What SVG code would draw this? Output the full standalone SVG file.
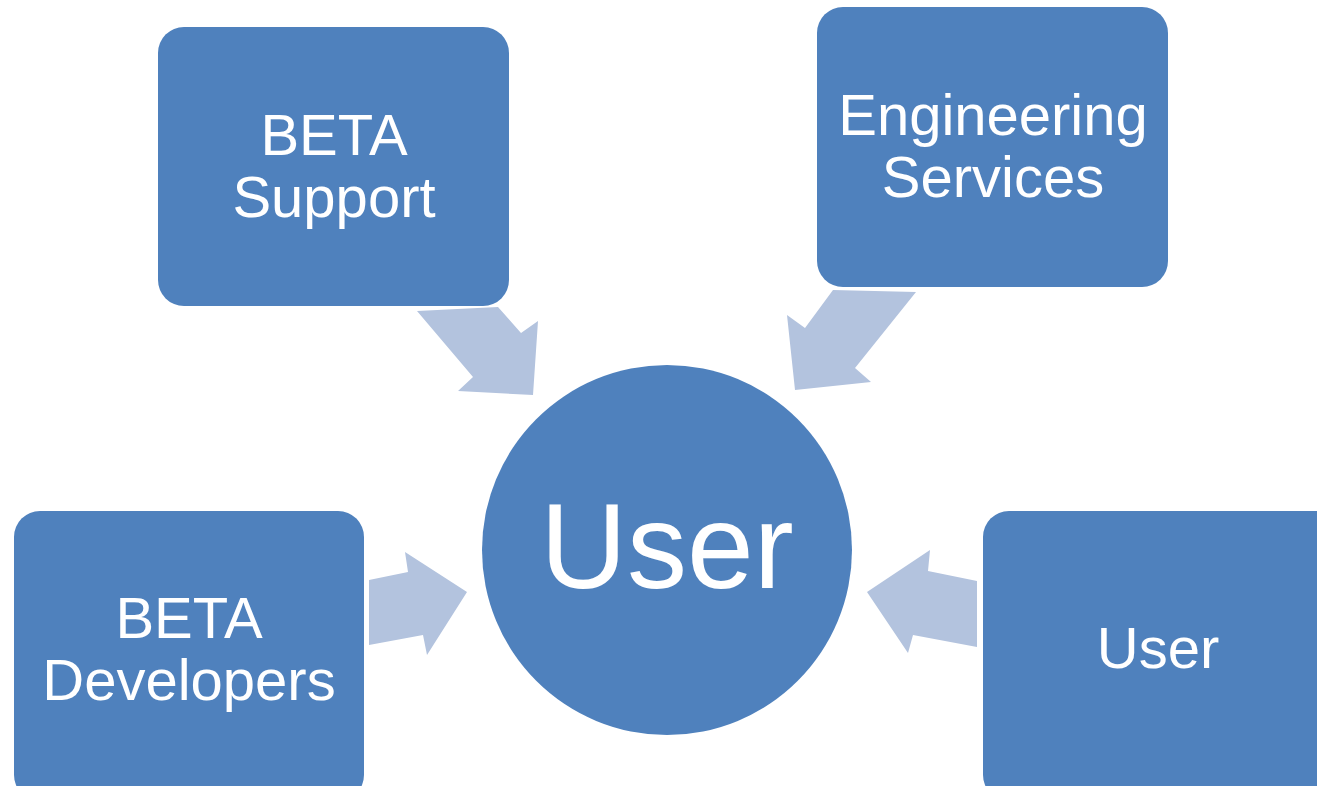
<svg xmlns="http://www.w3.org/2000/svg" width="1317" height="786" viewBox="0 0 1317 786">
<style>
.box{fill:#4F81BD}
.arr{fill:#B3C3DE}
.t{fill:#FFFFFF;font-family:"Liberation Sans",Arial,sans-serif;font-size:58px;text-anchor:middle}
</style>
<rect width="1317" height="786" fill="#FFFFFF"/>
<g id="connectors">
<polygon class="arr" points="417,311 498,307 521,333 538,321 533,395 458,391 473,377"/>
<polygon class="arr" points="833,290 916,292 855,368 871,382 795,390 787,315 805,328"/>
<polygon class="arr" points="369,580 408,572 405,552 467,592 427,655 423,635 369,645"/>
<polygon class="arr" points="977,581 928,571 930,550 867,592 908,653 913,635 977,647"/>
</g>
<g id="beta-support">
<rect class="box" x="158" y="27" width="351" height="279" rx="26"/>
<text class="t" x="334" y="155">BETA</text>
<text class="t" x="334" y="217">Support</text>
</g>
<g id="engineering-services">
<rect class="box" x="817" y="7" width="351" height="280" rx="26"/>
<text class="t" x="993" y="135">Engineering</text>
<text class="t" x="993" y="197">Services</text>
</g>
<g id="beta-developers">
<rect class="box" x="14" y="511" width="350" height="290" rx="26"/>
<text class="t" x="189" y="638">BETA</text>
<text class="t" x="189" y="700">Developers</text>
</g>
<g id="user-box">
<rect class="box" x="983" y="511" width="360" height="290" rx="26"/>
<text class="t" x="1158" y="668">User</text>
</g>
<g id="user-center">
<circle class="box" cx="667" cy="550" r="185"/>
<text class="t" x="667" y="588" style="font-size:120px">User</text>
</g>
</svg>
